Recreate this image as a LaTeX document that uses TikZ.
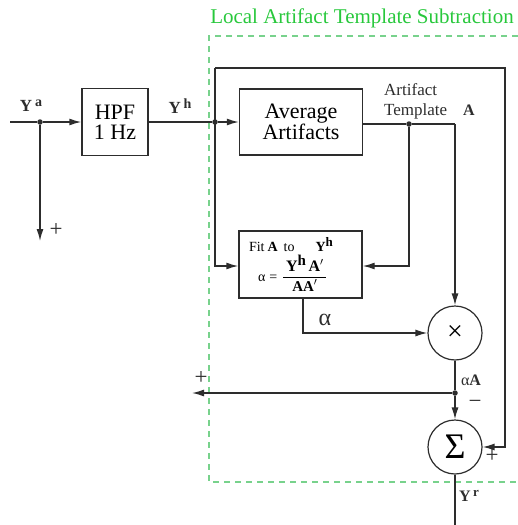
\documentclass[tikz,border=0pt]{standalone}
\usepackage{fontspec}
\setmainfont{Liberation Serif}
\usetikzlibrary{arrows.meta,calc}
\definecolor{ln}{RGB}{45,45,45}
\definecolor{ttl}{RGB}{40,200,60}
\definecolor{dsh}{RGB}{120,210,140}
\tikzset{
  wire/.style={draw=ln,line width=1.4pt},
  arr/.style={wire,-{Latex[length=12pt,width=7pt]}},
  blk/.style={draw=ln,line width=1.4pt,rectangle,inner sep=2pt,align=center},
  opc/.style={draw=ln,line width=1.2pt,circle,minimum size=54pt,inner sep=0pt},
  jdot/.style={circle,fill=ln,minimum size=5.5pt,inner sep=0pt},
  lbl/.style={inner sep=0pt,text=ln}
}
\begin{document}
\begin{tikzpicture}[x=1pt,y=-1pt]
\useasboundingbox (0,0) rectangle (518,525);
% green region
\draw[dsh,line width=1.2pt,dash pattern=on 6pt off 5pt] (518,36) -- (209,36) -- (209,482) -- (518,482);
\node[lbl,text=ttl,font=\fontsize{21}{21}\selectfont] (title) at (362,18) {Local Artifact Template Subtraction};
% blocks
\node[blk,minimum width=66pt,minimum height=67pt,font=\fontsize{22}{20}\selectfont] (hpf) at (115,122) {HPF\\1 Hz};
\node[blk,minimum width=123pt,minimum height=66pt,font=\fontsize{22}{20}\selectfont] (avg) at (301,122) {Average\\Artifacts};
\node[blk,minimum width=123pt,minimum height=67pt,inner sep=0pt,font=\fontsize{14}{14}\selectfont] (fit) at (300.5,264.5) {\makebox[107pt][l]{\hspace{2pt}Fit\hspace{3pt}\textbf{A}\hspace{6pt}to\hspace{21pt}\textbf{Y}\raisebox{5pt}{\fontsize{13}{13}\selectfont\textbf{h}}}\\[2pt]
\makebox[107pt][l]{\hspace{11pt}α\hspace{4pt}=\hspace{5pt}$\displaystyle\frac{\mbox{\fontsize{16}{16}\selectfont\,\textbf{Y}\raisebox{6pt}{\fontsize{15}{15}\selectfont\textbf{h}}\,\textbf{A}$'$\,}}{\mbox{\fontsize{15}{15}\selectfont\textbf{AA}$'$}}$}};
\node[opc] (mul) at (455,333) {\fontsize{28}{28}\selectfont ×};
\node[opc] (sum) at (455,447) {\raisebox{1pt}{\fontsize{36}{36}\selectfont Σ}};
% junctions
\node[jdot] (ja) at (40,122) {};
\node[jdot] (jh) at (215,122) {};
\node[jdot] (jt) at (409,124) {};
\node[jdot] (jaA) at (455,393) {};
\coordinate (in) at (10,122);
\coordinate (outa) at (40,241);
\coordinate (outl) at (192,393);
\coordinate (outr) at (455,525);
\coordinate (tl) at (215,68);
\coordinate (tr) at (505,68);
\coordinate (br) at (505,447);
\coordinate (tc) at (455,124);
\coordinate (fl) at (215,266);
\coordinate (fr) at (409,266);
\coordinate (ab) at (303,333);
% wires
\draw[wire] (in) -- (ja);
\draw[arr] (ja) -- (hpf.west);
\draw[arr] (ja) -- (outa);
\draw[wire] (hpf.east) -- (jh);
\draw[arr] (jh) -- (avg.west);
\draw[wire] (avg.east |- jt) -- (jt);
\draw[wire] (jt) -- (tc);
\draw[arr] (tc) -- (mul.north);
\draw[arr] (jt) -- (fr) -- (fit.east |- fr);
\draw[arr] (tl) -- (fl) -- (fit.west |- fl);
\draw[arr] (tl) -- (tr) -- (br) -- (sum.east);
\draw[arr] (fit.south -| ab) -- (ab) -- (mul.west);
\draw[wire] (mul.south) -- (jaA);
\draw[arr] (jaA) -- (outl);
\draw[arr] (jaA) -- (sum.north);
\draw[wire] (sum.south) -- (outr);
% labels
\node[lbl,font=\fontsize{17}{17}\selectfont] (lya) at (31,106) {\textbf{Y}\,\raisebox{5pt}{\fontsize{14}{14}\selectfont\textbf{a}}};
\node[lbl,font=\fontsize{23}{23}\selectfont] (lpa) at (56,230) {+};
\node[lbl,font=\fontsize{17}{17}\selectfont] (lyh) at (180,106) {\textbf{Y}\,\raisebox{5pt}{\fontsize{14}{14}\selectfont\textbf{h}}};
\node[lbl,font=\fontsize{17}{17}\selectfont,anchor=west] (lart) at (384,90) {Artifact};
\node[lbl,font=\fontsize{17}{17}\selectfont,anchor=west] (ltem) at (384,111) {Template};
\node[lbl,font=\fontsize{16}{16}\selectfont\bfseries] (lA) at (469,110) {A};
\node[lbl,font=\fontsize{24}{24}\selectfont] (lal) at (325,320) {α};
\node[lbl,font=\fontsize{23}{23}\selectfont] (lpl) at (201,378) {+};
\node[lbl,font=\fontsize{16}{16}\selectfont] (laA) at (471,380) {α\textbf{A}};
\node[lbl,font=\fontsize{23}{23}\selectfont] (lmi) at (475,404) {−};
\node[lbl,font=\fontsize{23}{23}\selectfont] (lps) at (492,456) {+};
\node[lbl,font=\fontsize{16}{16}\selectfont] (lyr) at (469,496) {\textbf{Y}\,\raisebox{5pt}{\fontsize{13}{13}\selectfont\textbf{r}}};
\end{tikzpicture}
\end{document}
